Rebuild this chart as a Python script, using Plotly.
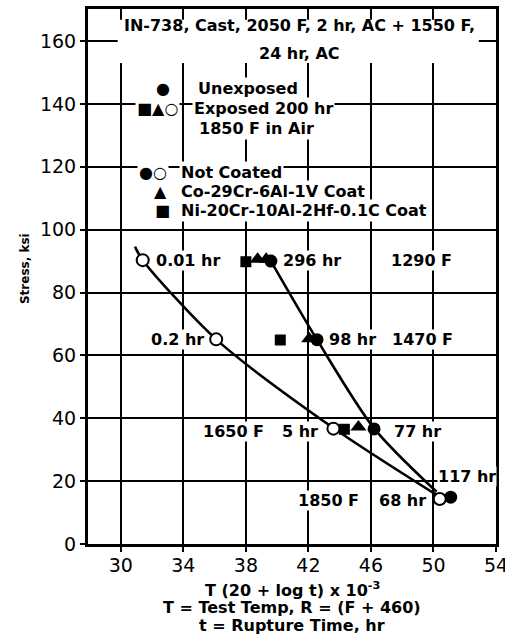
import plotly.graph_objects as go

# Larson-Miller parameter, T (20 + log t) x 10^-3, and stress (ksi)
unexposed_x = [39.6, 42.55, 46.2, 51.1]
unexposed_y = [90.0, 65.0, 36.6, 14.9]

exposed_bare_x = [31.4, 36.1, 43.6, 50.4]
exposed_bare_y = [90.3, 65.1, 36.7, 14.3]

exposed_co_coat_x = [38.75, 39.3, 42.05, 45.2]
exposed_co_coat_y = [90.6, 90.6, 65.3, 37.2]

exposed_ni_coat_x = [38.0, 40.2, 44.3]
exposed_ni_coat_y = [89.8, 64.9, 36.5]

# Faired curves through the unexposed and the exposed (not coated) points
unexposed_curve_x = [39.6, 42.55, 46.2, 50.2]
unexposed_curve_y = [90.0, 65.0, 36.8, 16.6]
exposed_curve_x = [30.9, 31.4, 36.1, 43.6, 50.2]
exposed_curve_y = [94.6, 90.3, 65.1, 36.9, 15.6]

x_ticks = [30, 34, 38, 42, 46, 50, 54]
y_ticks = [0, 20, 40, 60, 80, 100, 120, 140, 160]

# Point labels: (text, x, y, anchor)
point_labels = [
    ("0.01 hr", 32.2, 90.3, "left"),
    ("296 hr", 40.3, 90.3, "left"),
    ("1290 F", 47.2, 90.3, "left"),
    ("0.2 hr", 35.4, 65.0, "right"),
    ("98 hr", 43.25, 65.0, "left"),
    ("1470 F", 47.3, 65.0, "left"),
    ("1650 F", 35.2, 35.8, "left"),
    ("5 hr", 42.7, 35.8, "right"),
    ("77 hr", 47.4, 35.8, "left"),
    ("117 hr", 50.25, 21.4, "left"),
    ("1850 F", 41.3, 13.8, "left"),
    ("68 hr", 49.6, 13.8, "right"),
]

# Key entries: (text, x, y)
key_rows = [
    ("●", 32.1, 145.0),
    ("Unexposed", 34.8, 145.0),
    ("■▲○", 30.9, 138.4),
    ("Exposed 200 hr", 34.55, 138.4),
    ("1850 F in Air", 34.85, 132.3),
    ("●○", 31.05, 118.3),
    ("Not Coated", 33.75, 118.3),
    ("▲", 32.0, 112.0),
    ("Co-29Cr-6Al-1V Coat", 33.75, 112.0),
    ("■", 32.05, 106.0),
    ("Ni-20Cr-10Al-2Hf-0.1C Coat", 33.75, 106.0),
]

title_lines = ["IN-738, Cast, 2050 F, 2 hr, AC + 1550 F,", "24 hr, AC"]
x_title_lines = [
    "T (20 + log t) x 10<sup>-3</sup>",
    "T = Test Temp, R = (F + 460)",
    "t = Rupture Time, hr",
]

FONT = "DejaVu Sans"
bold = dict(family=FONT, size=16, color="black", weight="bold")

X_RANGE = [27.9, 54.0]
Y_RANGE = [0, 170.2]
PLOT_LEFT, PLOT_BOTTOM, PLOT_H = 88, 544, 535
PLOT_W = 408.5

fig = go.Figure()

fig.add_trace(go.Scatter(x=unexposed_curve_x, y=unexposed_curve_y, mode="lines",
                         line=dict(color="black", width=2.6, shape="spline", smoothing=0.8),
                         hoverinfo="skip"))
fig.add_trace(go.Scatter(x=exposed_curve_x, y=exposed_curve_y, mode="lines",
                         line=dict(color="black", width=2.6, shape="spline", smoothing=0.8),
                         hoverinfo="skip"))

fig.add_trace(go.Scatter(x=exposed_ni_coat_x, y=exposed_ni_coat_y, mode="markers",
                         marker=dict(symbol="square", size=11, color="black")))
fig.add_trace(go.Scatter(x=exposed_co_coat_x, y=exposed_co_coat_y, mode="markers",
                         marker=dict(symbol="triangle-up", size=14, color="black")))
fig.add_trace(go.Scatter(x=unexposed_x, y=unexposed_y, mode="markers",
                         marker=dict(symbol="circle", size=13, color="black")))
fig.add_trace(go.Scatter(x=exposed_bare_x, y=exposed_bare_y, mode="markers",
                         marker=dict(symbol="circle", size=12, color="white",
                                     line=dict(color="black", width=2))))

annotations = []
for text, x, y, anchor in point_labels:
    annotations.append(dict(text=text, x=x, y=y, xref="x", yref="y", xanchor=anchor,
                            yanchor="middle", showarrow=False, font=bold,
                            bgcolor="white", borderpad=0))
for text, x, y in key_rows:
    annotations.append(dict(text=text, x=x, y=y, xref="x", yref="y", xanchor="left",
                            yanchor="middle", showarrow=False, font=bold,
                            bgcolor="white", borderpad=1))
for text, y in zip(title_lines, [165.1, 156.2]):
    annotations.append(dict(text=text, x=41.4, y=y, xref="x", yref="y", xanchor="center",
                            yanchor="middle", showarrow=False, font=bold))
for text, ypx in zip(x_title_lines, [589, 607, 625]):
    annotations.append(dict(text=text, x=0.5, y=-(ypx - PLOT_BOTTOM) / PLOT_H, xref="paper",
                            yref="paper", xanchor="center", yanchor="middle",
                            showarrow=False, font=bold))
annotations.append(dict(text="Stress, ksi", x=-(PLOT_LEFT - 25) / PLOT_W, y=87.5,
                        xref="paper", yref="y", xanchor="center", textangle=-90,
                        showarrow=False,
                        font=dict(family=FONT, size=12, color="black", weight="bold")))

# White panel behind the heading, drawn over the grid but under the data
shapes = [dict(type="rect", xref="x", yref="y", x0=29.8, x1=52.9, y0=153.0, y1=166.8,
               fillcolor="white", line=dict(width=0), layer="between")]

axis_common = dict(showline=True, linecolor="black", linewidth=3, mirror=True,
                   showgrid=True, gridcolor="black", gridwidth=1.6, zeroline=False,
                   ticks="outside", ticklen=5, tickwidth=2, tickcolor="black",
                   tickfont=dict(family=FONT, size=19, color="black"),
                   ticklabeloverflow="allow", automargin=False)

fig.update_layout(
    width=505, height=644,
    margin=dict(l=PLOT_LEFT, r=505 - PLOT_LEFT - PLOT_W, t=9, b=644 - PLOT_BOTTOM,
                autoexpand=False),
    paper_bgcolor="white", plot_bgcolor="white",
    showlegend=False,
    xaxis=dict(range=X_RANGE, tickvals=x_ticks, ticklabelstandoff=-3, **axis_common),
    yaxis=dict(range=Y_RANGE, tickvals=y_ticks, **axis_common),
    annotations=annotations,
    shapes=shapes,
)

fig.write_html("out.html")
